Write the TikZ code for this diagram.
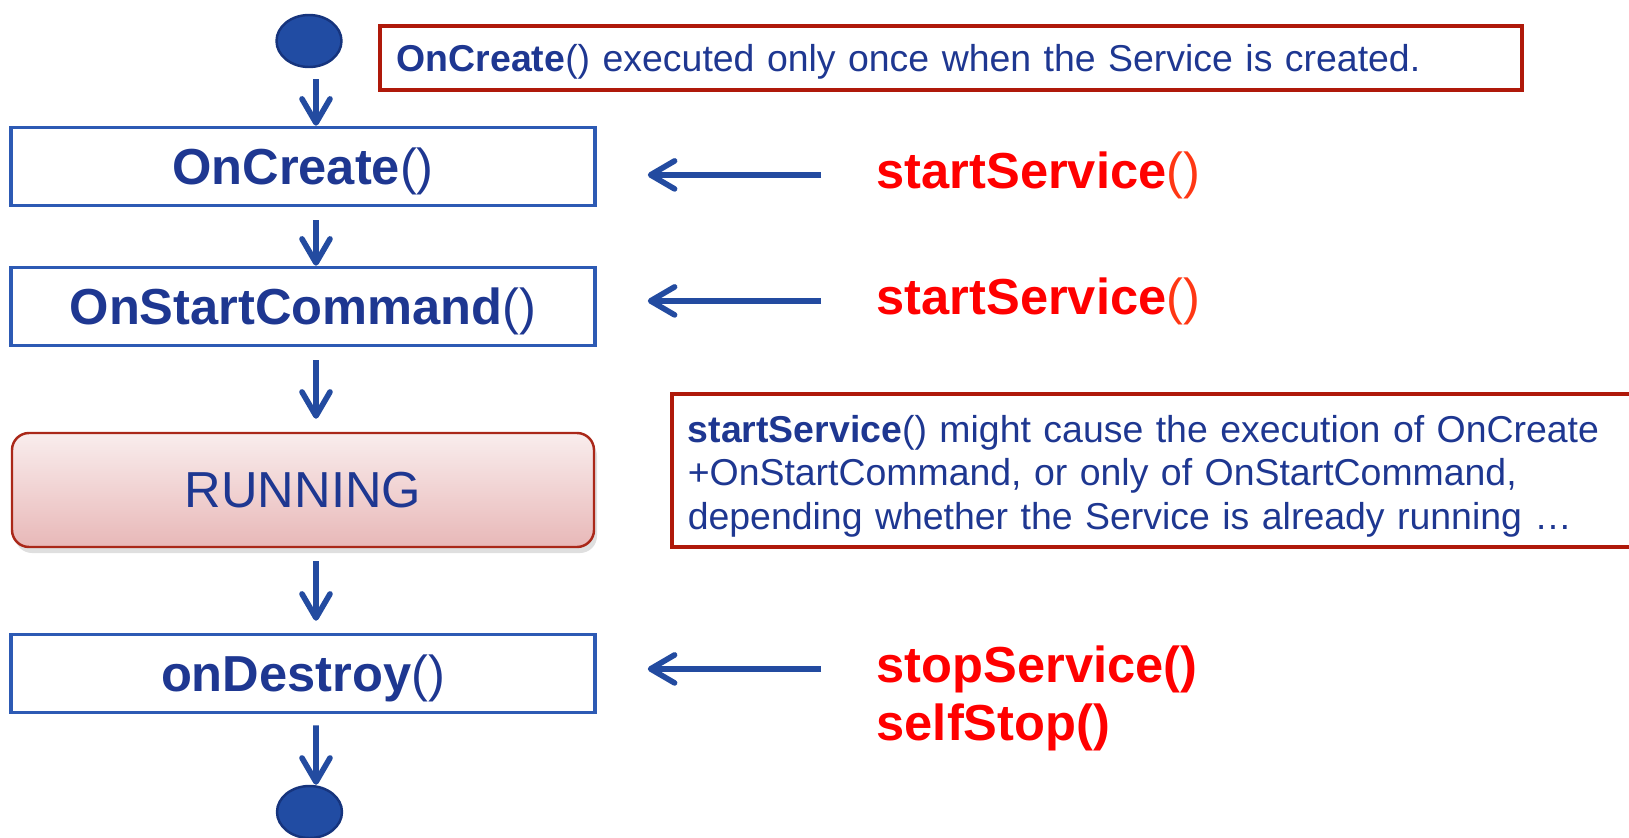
\documentclass[tikz,border=0pt]{standalone}
\usepackage{fontspec}
\setmainfont{Liberation Sans}
\usepackage{tikz}
\usetikzlibrary{arrows.meta,positioning,calc,shapes.geometric,shadows}
\usepackage{xcolor}
\definecolor{TxtBlue}{RGB}{30,55,145}
\definecolor{BoxBlue}{RGB}{45,90,180}
\definecolor{ArrowBlue}{RGB}{35,75,160}
\definecolor{DotBlue}{RGB}{33,76,163}
\definecolor{DotEdge}{RGB}{22,52,125}
\definecolor{NoteRed}{RGB}{175,25,10}
\definecolor{CallRed}{RGB}{255,0,0}
\definecolor{ParenRed}{RGB}{255,55,20}
\definecolor{RunTop}{RGB}{249,237,237}
\definecolor{RunBottom}{RGB}{232,184,184}
\definecolor{RunEdge}{RGB}{170,40,25}

\begin{document}
\begin{tikzpicture}
  % Styles
  \tikzset{
    dot/.style={ellipse,fill=DotBlue,draw=DotEdge,line width=0.7pt,
      minimum width=0.65cm,minimum height=0.52cm,inner sep=0pt},
    methodbox/.style={rectangle,draw=BoxBlue,line width=1pt,text=TxtBlue,
      minimum width=5.84cm,minimum height=0.78cm,inner sep=0pt,text depth=0pt,
      font=\fontsize{14.4}{17}\selectfont},
    runbox/.style={rectangle,rounded corners=0.17cm,draw=RunEdge,line width=0.7pt,
      top color=RunTop,bottom color=RunBottom,text=TxtBlue,
      minimum width=5.82cm,minimum height=1.14cm,inner sep=0pt,
      drop shadow={opacity=0.25,shadow xshift=0.3mm,shadow yshift=-0.6mm},
      font=\fontsize{14.4}{17}\selectfont},
    note/.style={rectangle,draw=NoteRed,line width=1pt,text=TxtBlue,
      align=left,inner ysep=0pt,
      font=\fontsize{10.65}{12.4}\selectfont},
    call/.style={anchor=base west,inner sep=0pt,text=CallRed,
      font=\fontsize{14.4}{17}\selectfont\bfseries},
    flow/.style={draw=ArrowBlue,line width=1.6pt,
      -{Straight Barb[length=2.4mm,width=2.8mm,round]}},
    callflow/.style={flow,shorten <=0.55cm,shorten >=0.51cm}
  }

  \useasboundingbox (0,0) rectangle (16.29,-8.37);

  %================= LIFECYCLE =================
  \node[dot] (start) at (3.09,-0.41) {};
  \node[methodbox] (oncreate) at (3.03,-1.665) {\textbf{OnCreate}()};
  \node[methodbox] (onstart) at (3.03,-3.065) {\textbf{OnStartCommand}()};
  \node[runbox] (running) at (3.03,-4.90) {RUNNING};
  \node[methodbox] (ondestroy) at (3.03,-6.735) {\textbf{onDestroy}()};
  \node[dot] (stop) at (3.095,-8.12) {};

  \draw[flow,shorten <=1.1mm] ([xshift=0.7mm]start.south) -- ([xshift=1.3mm]oncreate.north);
  \draw[flow,shorten <=1.3mm] ([xshift=1.3mm]oncreate.south) -- ([xshift=1.3mm]onstart.north);
  \draw[flow,shorten <=1.3mm,shorten >=1.3mm] ([xshift=1.3mm]onstart.south) -- ([xshift=1.3mm]running.north);
  \draw[flow,shorten <=1.3mm,shorten >=1.2mm] ([xshift=1.3mm]running.south) -- ([xshift=1.3mm]ondestroy.north);
  \draw[flow,shorten <=1.1mm] ([xshift=1.3mm]ondestroy.south) -- ([xshift=0.65mm]stop.north);

  %================= CALLS =================
  \node[call] (call1) at (8.76,-1.88) {startService\textcolor{ParenRed}{\mdseries()}};
  \node[call] (call2) at (8.76,-3.14) {startService\textcolor{ParenRed}{\mdseries()}};
  \node[call] (stopsvc) at (8.76,-6.82) {stopService()};
  \node[call] (selfstop) at (8.76,-7.40) {selfStop()};

  \draw[callflow] (call1.west) -- (call1.west -| oncreate.east);
  \draw[callflow] (call2.west) -- (call2.west -| onstart.east);
  \draw[callflow] (stopsvc.west) -- (stopsvc.west -| ondestroy.east);

  %================= NOTES =================
  \node[note,anchor=west,minimum height=0.64cm,inner xsep=0.17cm,text width=11.08cm,
    text depth=0pt] (note1) at (3.78,-0.58)
    {\textbf{OnCreate}() executed only once when the Service is created.};
  \node[note,anchor=west,minimum height=1.53cm,inner xsep=0.16cm,text width=9.38cm]
    (note2) at (6.70,-4.705)
    {\rule{0pt}{0.38cm}\textbf{startService}() might cause the execution of OnCreate\\
     +OnStartCommand, or only of OnStartCommand,\\
     depending whether the Service is already running …};

\end{tikzpicture}
\end{document}
